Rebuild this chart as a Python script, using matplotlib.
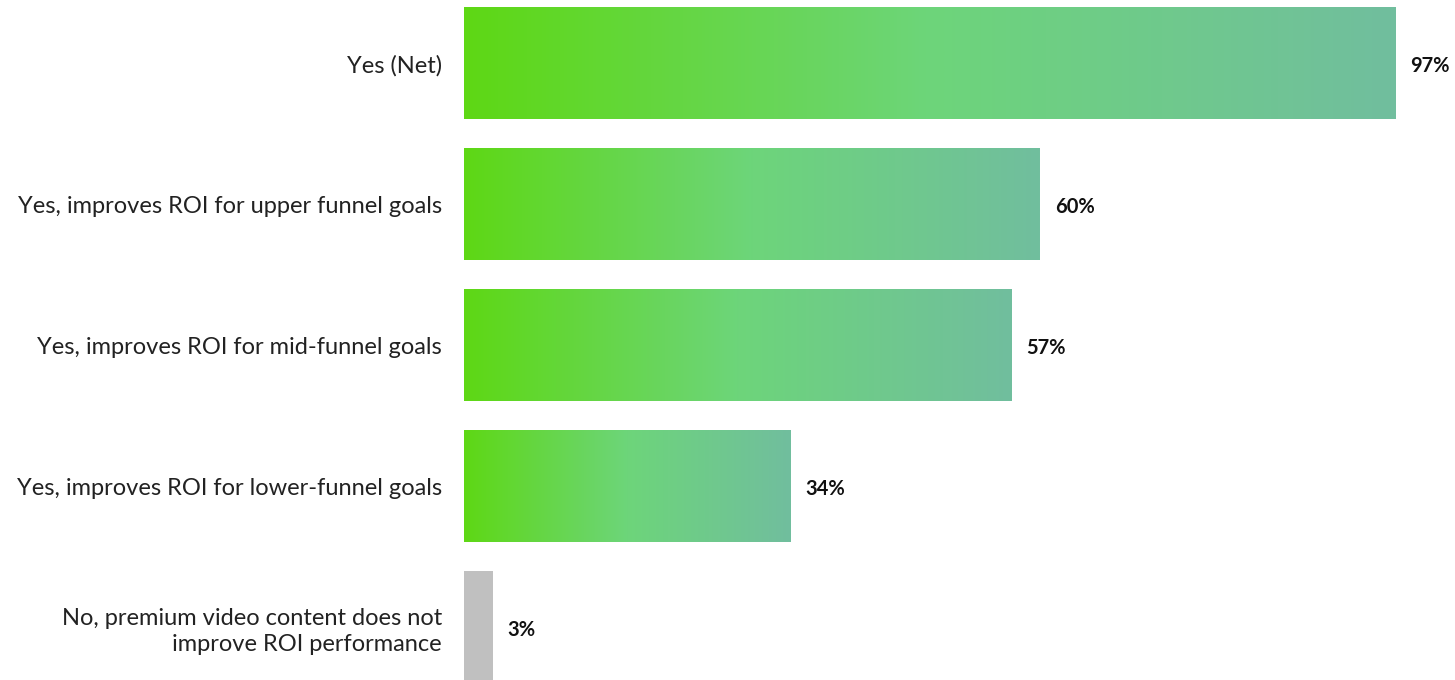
import matplotlib.pyplot as plt
import numpy as np
from matplotlib.colors import LinearSegmentedColormap

labels = [
    "Yes (Net)",
    "Yes, improves ROI for upper funnel goals",
    "Yes, improves ROI for mid-funnel goals",
    "Yes, improves ROI for lower-funnel goals",
    "No, premium video content does not\nimprove ROI performance",
]
values = [97, 60, 57, 34, 3]
use_gradient = [True, True, True, True, False]

GREEN_FADE = LinearSegmentedColormap.from_list(
    "green_fade", [(0.0, "#5ED815"), (0.5, "#6DD57A"), (1.0, "#71BE9E")]
)
GREY = "#C0C0C0"

plt.rcParams["font.family"] = ["Lato", "DejaVu Sans"]

fig = plt.figure(figsize=(14.55, 6.8), dpi=100)
W, H = 1455, 680
ax = fig.add_axes([464 / W, 0, 960 / W, 1])

bar_h = 0.79
ypos = np.arange(len(values))
grad = np.linspace(0, 1, 256).reshape(1, -1)

for y, v, g in zip(ypos, values, use_gradient):
    if g:
        ax.imshow(grad, cmap=GREEN_FADE, aspect="auto", interpolation="bilinear",
                  extent=(0, v, y + bar_h / 2, y - bar_h / 2), zorder=2)
    else:
        ax.barh(y, v, height=bar_h, color=GREY, zorder=2)
    ax.text(v + 1.55, y + 0.02, f"{v}%", va="center", ha="left",
            fontsize=14.5, fontweight="bold", color="#111111")

ax.set_xlim(0, 100)
ax.set_ylim(4.376, -0.45)
ax.set_yticks(ypos)
ax.set_yticklabels(labels, fontsize=17, color="#222222", linespacing=1.3)
ax.tick_params(axis="y", length=0, pad=16)
ax.set_xticks([])
for s in ax.spines.values():
    s.set_visible(False)

fig.savefig("out.png", dpi=100)
